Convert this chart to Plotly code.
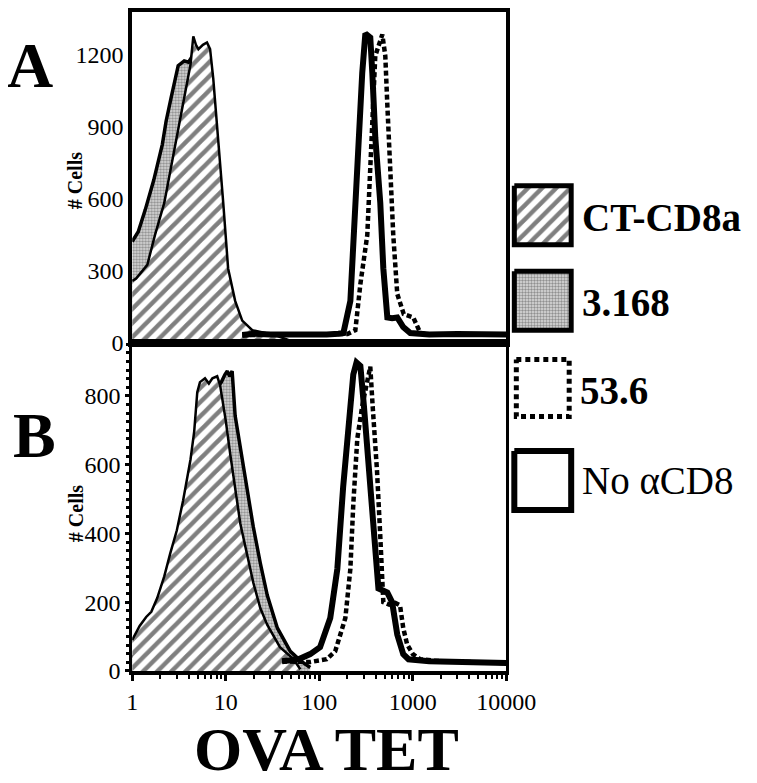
import plotly.graph_objects as go

W, H = 757, 783

# ---------------- data (fluorescence, # cells) ----------------
# Panel A
a_ct_x = [1.0, 1.1, 1.45, 1.75, 2.2, 2.7, 3.1, 3.8, 4.2, 4.5, 4.8, 5.1, 5.7, 6.3, 6.8, 7.35, 8.3, 9.4, 10.6, 12.6, 15, 19.2, 26.4, 35, 45, 55]
a_ct_y = [258, 268, 325, 449, 583, 770, 893, 1077, 1159, 1276, 1241, 1223, 1241, 1251, 1223, 1101, 856, 583, 310, 175, 93, 53, 41, 30, 15, 0]

a_316_x = [1.0, 1.16, 1.38, 1.7, 2.1, 2.3, 2.6, 3.1, 3.6, 4.0, 4.5, 5.0, 5.6, 6.2, 7.0, 8.0, 9.0, 10.5, 12, 15, 20, 30]
a_316_y = [422, 463, 555, 678, 827, 922, 1019, 1154, 1174, 1169, 1200, 1169, 1118, 995, 770, 504, 309, 166, 84, 48, 33, 12]

a_536_x = [15, 30, 60, 100, 150, 200, 243, 275, 326, 351, 369, 397, 472, 508, 534, 576, 618, 682, 800, 1012, 1117, 1203, 1500, 3000, 6000, 10000]
a_536_y = [33, 35, 33, 36, 35, 37, 53, 245, 449, 718, 991, 1195, 1284, 1195, 991, 718, 449, 204, 120, 106, 66, 41, 35, 36, 33, 35]

a_no_x = [15, 20, 30, 50, 80, 120, 160, 181, 215, 243, 261, 288, 311, 351, 369, 397, 449, 484, 534, 600, 682, 790, 940, 1500, 3000, 6000, 10000]
a_no_y = [33, 38, 35, 33, 36, 35, 38, 41, 175, 583, 856, 1125, 1288, 1272, 1125, 856, 583, 310, 106, 103, 106, 66, 41, 35, 37, 33, 35]

# Panel B
b_ct_x = [1.0, 1.2, 1.41, 1.6, 1.85, 2.2, 2.55, 3.0, 3.5, 4.2, 4.6, 4.96, 5.3, 6.0, 6.6, 7.2, 8.1, 8.7, 10, 11.2, 14.3, 17, 19.7, 23.4, 27.8, 38, 52.6, 62.7]
b_ct_y = [90, 131, 157, 172, 212, 275, 342, 409, 496, 615, 697, 811, 840, 851, 836, 851, 857, 831, 728, 628, 429, 337, 257, 183, 134, 69, 35, 5]

b_316_x = [1.0, 1.5, 2.0, 3.0, 4.0, 5.0, 6.0, 7.0, 8.0, 9.0, 9.8, 10.4, 11.0, 11.7, 12.6, 14.3, 17, 19.7, 23.4, 27.8, 35.6, 49, 62.7, 80]
b_316_y = [39, 80, 162, 317, 471, 594, 697, 779, 821, 841, 862, 872, 857, 872, 742, 649, 535, 419, 314, 220, 125, 57, 30, 10]

b_536_x = [40, 80, 120, 148, 190, 215, 231, 255, 288, 330, 351, 372, 414, 449, 470, 484, 560, 650, 730, 790, 870, 1000, 1200, 2000, 4000, 10000]
b_536_y = [28, 26, 34, 57, 154, 297, 485, 676, 771, 862, 885, 771, 583, 392, 297, 200, 193, 198, 191, 125, 77, 49, 34, 28, 26, 23]

b_no_x = [40, 60, 80, 102, 131, 156, 180, 215, 231, 250, 275, 300, 351, 397, 429, 480, 534, 601, 682, 790, 900, 1500, 3000, 6000, 10000]
b_no_y = [28, 34, 49, 69, 154, 297, 535, 771, 862, 897, 887, 771, 535, 343, 240, 234, 228, 200, 106, 49, 34, 28, 26, 28, 23]

x_tickvals = [1, 10, 100, 1000, 10000]
x_ticktext = ["1", "10", "100", "1000", "10000"]
a_yticks = [0, 300, 600, 900, 1200]
b_yticks = [0, 200, 400, 600, 800]

legend_labels = ["CT-CD8a", "3.168", "53.6", "No \u03b1CD8"]

# ---------------- page geometry (reference pixels -> paper fractions) ----------------
OX, RW, OY = 13.5, 722.7, 3.0   # observed render offset / effective width


def fx(x):
    return (x - OX) / RW


def fy(y):
    return min(1.0, 1 - (y - OY) / H)


# ---------------- styles ----------------
SERIF = "Liberation Serif"
hatch = dict(shape="/", size=10, solidity=0.45, fgcolor="black", bgcolor="white")
stipple = dict(shape=".", size=3, solidity=0.5, fgcolor="#444444", bgcolor="#dddddd")

fig = go.Figure()


def add_panel(xa, ya, ct, s316, s536, sno):
    fig.add_trace(go.Scatter(x=s316[0], y=s316[1], mode="lines", fill="tozeroy",
                             fillpattern=stipple, line=dict(color="black", width=3.5),
                             xaxis=xa, yaxis=ya, showlegend=False, hoverinfo="skip"))
    fig.add_trace(go.Scatter(x=ct[0], y=ct[1], mode="lines", fill="tozeroy",
                             fillpattern=hatch, line=dict(color="black", width=2.5),
                             xaxis=xa, yaxis=ya, showlegend=False, hoverinfo="skip"))
    fig.add_trace(go.Scatter(x=sno[0], y=sno[1], mode="lines",
                             line=dict(color="black", width=6),
                             xaxis=xa, yaxis=ya, showlegend=False, hoverinfo="skip"))
    fig.add_trace(go.Scatter(x=s536[0], y=s536[1], mode="lines",
                             line=dict(color="black", width=4.5, dash="5px,3px"),
                             xaxis=xa, yaxis=ya, showlegend=False, hoverinfo="skip"))


add_panel("x", "y", (a_ct_x, a_ct_y), (a_316_x, a_316_y), (a_536_x, a_536_y), (a_no_x, a_no_y))
add_panel("x2", "y2", (b_ct_x, b_ct_y), (b_316_x, b_316_y), (b_536_x, b_536_y), (b_no_x, b_no_y))

# ---------------- custom legend swatches (reference-pixel overlay axis) ----------------
swatch_boxes = [(515, 183, 572, 243), (515, 270, 572, 330), (517, 360, 570, 418), (515, 453, 572, 513)]
swatch_styles = [
    dict(fillpattern=hatch, line=dict(color="black", width=5)),
    dict(fillpattern=stipple, line=dict(color="black", width=5)),
    dict(fillcolor="white", line=dict(color="black", width=5, dash="5px,4px")),
    dict(fillcolor="white", line=dict(color="black", width=6)),
]
for (x0, y0, x1, y1), st in zip(swatch_boxes, swatch_styles):
    fig.add_trace(go.Scatter(x=[x0, x1, x1, x0, x0], y=[y0, y0, y1, y1, y0], mode="lines",
                             fill="toself", xaxis="x3", yaxis="y3", showlegend=False,
                             hoverinfo="skip", **st))

label_pos = [(581, 215), (581, 302), (579, 391), (581, 483)]
label_bold = [True, True, True, False]
annotations = []
for (lx, ly), txt, b in zip(label_pos, legend_labels, label_bold):
    annotations.append(dict(x=fx(lx), y=fy(ly), xref="paper", yref="paper", xanchor="left",
                            yanchor="middle", showarrow=False,
                            text=f"<b>{txt}</b>" if b else txt,
                            font=dict(family=SERIF, size=39, color="black")))

extra = [
    dict(x=fx(30), y=fy(61), text="<b>A</b>", font=dict(family=SERIF, size=64, color="black")),
    dict(x=fx(34), y=fy(437), text="<b>B</b>", font=dict(family=SERIF, size=64, color="black")),
    dict(x=fx(75), y=fy(178), text="<b># Cells</b>", textangle=-90,
         font=dict(family=SERIF, size=20, color="black")),
    dict(x=fx(75), y=fy(517), text="<b># Cells</b>", textangle=-90,
         font=dict(family=SERIF, size=20, color="black")),
    dict(x=fx(327), y=fy(756), text="<b>OVA TET</b>", font=dict(family=SERIF, size=62, color="black")),
]
for an in extra:
    an.update(xref="paper", yref="paper", showarrow=False, xanchor="center", yanchor="middle")
annotations += extra

xdom = [fx(132), fx(507)]
frame = dict(showline=True, linecolor="black", mirror=True, showgrid=False, zeroline=False)
tickfont = dict(family=SERIF, size=24, color="black")

fig.update_layout(
    width=W, height=H, margin=dict(l=0, r=0, t=0, b=0),
    paper_bgcolor="white", plot_bgcolor="rgba(0,0,0,0)",
    annotations=annotations,
    xaxis=dict(type="log", range=[0, 4], domain=xdom, anchor="y", showticklabels=False,
               ticks="", linewidth=4, **frame),
    yaxis=dict(range=[0, 1378], domain=[fy(343), fy(6)], anchor="x",
               tickmode="array", tickvals=a_yticks, ticks="", tickfont=tickfont,
               linewidth=4, **frame),
    xaxis2=dict(type="log", range=[0, 4], domain=xdom, anchor="y2",
                tickmode="array", tickvals=x_tickvals, ticktext=x_ticktext,
                ticks="outside", ticklen=6, tickwidth=3, tickcolor="black",
                minor=dict(ticks="outside", ticklen=4, tickwidth=2, tickcolor="black", dtick="D1"),
                tickfont=tickfont, linewidth=4, **frame),
    yaxis2=dict(range=[0, 954], domain=[fy(677), fy(343)], anchor="x2",
                tickmode="array", tickvals=b_yticks, ticks="outside", ticklen=4, tickwidth=3,
                tickcolor="black",
                minor=dict(ticks="outside", ticklen=3, tickwidth=3, tickcolor="black", dtick=25),
                tickfont=tickfont, linewidth=3, **frame),
    xaxis3=dict(range=[OX, OX + RW], domain=[0, 1], anchor="y3", visible=False, fixedrange=True),
    yaxis3=dict(range=[OY + H, OY], domain=[0, 1], anchor="x3", visible=False, fixedrange=True),
)

fig.write_html("out.html")
